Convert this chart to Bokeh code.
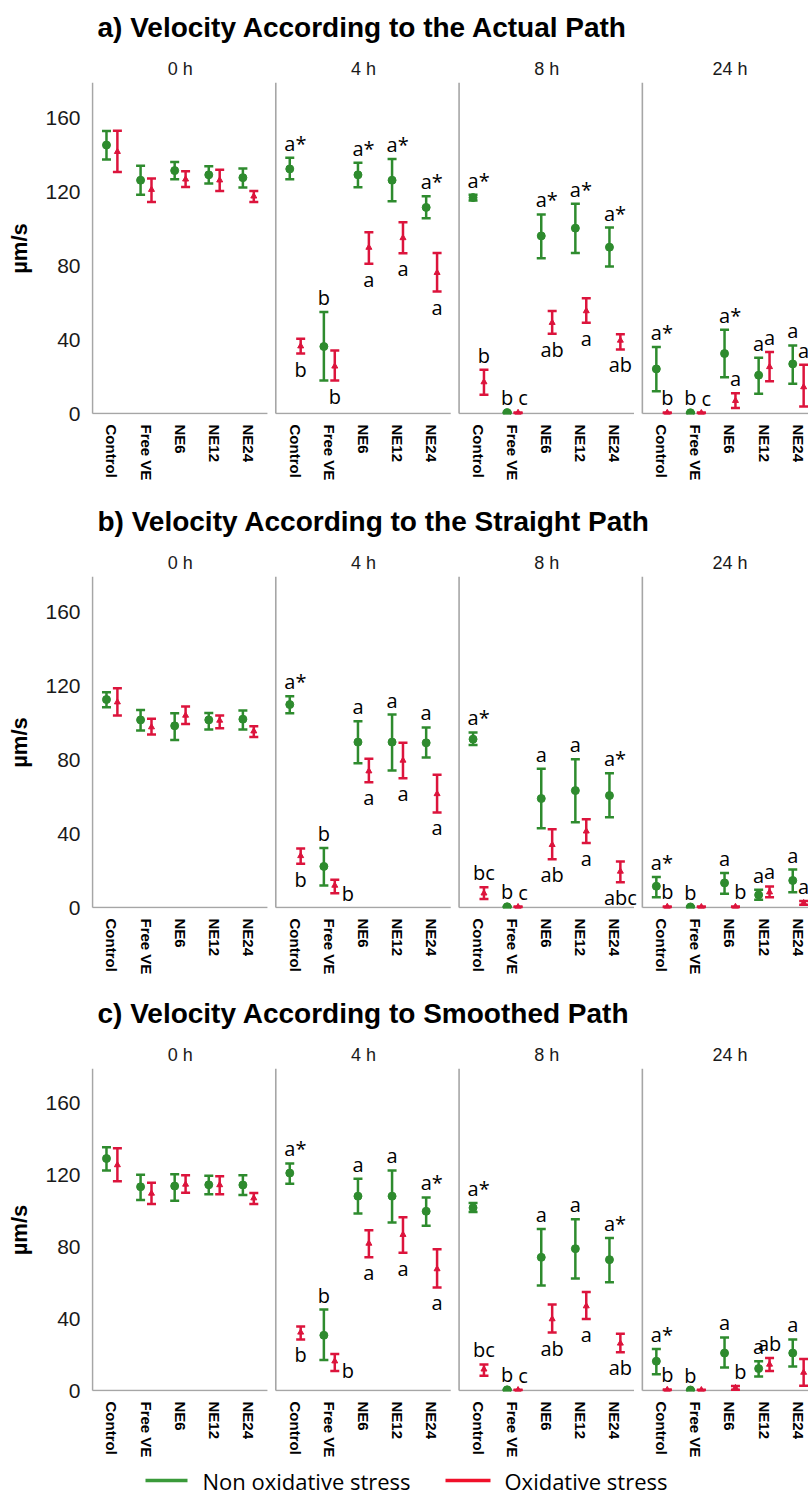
from bokeh.plotting import figure
from bokeh.layouts import column
from bokeh.models import FixedTicker, Range1d, ColumnDataSource
from bokeh.core.properties import value
from bokeh.embed import file_html
from bokeh.resources import INLINE

# ---------------- data ----------------
categories = ["Control", "Free VE", "NE6", "NE12", "NE24"]
times = ["0 h", "4 h", "8 h", "24 h"]
series_names = ["Non oxidative stress", "Oxidative stress"]
panel_titles = ["a) Velocity According to the Actual Path",
                "b) Velocity According to the Straight Path",
                "c) Velocity According to Smoothed Path"]
y_ticks = [0, 40, 80, 120, 160]
y_label = "µm/s"

# a) actual path  (rows = times, cols = categories)
a_non_mean = [[145.1, 126.1, 131.3, 129.0, 127.5], [132.2, 36.2, 129.0, 126.1, 111.4],
              [116.7, 0.5, 96.0, 100.2, 89.9], [24.1, 0.4, 32.4, 20.7, 26.8]]
a_non_low = [[137.3, 118.3, 126.6, 124.3, 122.1], [126.6, 17.8, 122.3, 114.7, 105.6],
             [115.2, 0.2, 83.9, 86.8, 79.5], [12.0, 0.2, 19.6, 10.7, 16.1]]
a_non_high = [[152.7, 133.9, 135.9, 133.7, 132.4], [138.2, 54.9, 135.5, 137.6, 117.4],
              [118.2, 0.8, 107.6, 113.4, 100.5], [36.0, 0.6, 45.3, 30.1, 36.8]]
a_ox_mean = [[141.5, 121.0, 126.6, 126.1, 117.4], [36.4, 25.5, 89.7, 94.9, 76.1],
             [17.0, 0.4, 49.1, 55.4, 39.5], [0.4, 0.3, 6.9, 25.2, 14.3]]
a_ox_low = [[130.6, 114.3, 122.5, 120.3, 114.3], [32.4, 17.8, 81.0, 86.6, 65.9],
            [10.1, 0.2, 43.1, 49.1, 34.6], [0.2, 0.1, 3.0, 17.4, 3.8]]
a_ox_high = [[152.9, 127.0, 131.0, 131.7, 120.3], [40.4, 34.1, 98.0, 103.4, 86.8],
             [23.7, 0.6, 55.4, 62.3, 42.8], [0.6, 0.5, 10.9, 33.2, 26.4]]
a_non_letters = [["", "", "", "", ""], ["a*", "b", "a*", "a*", "a*"],
                 ["a*", "b", "a*", "a*", "a*"], ["a*", "b", "a*", "a", "a"]]
a_ox_letters = [["", "", "", "", ""], ["b", "b", "a", "a", "a"],
                ["b", "c", "ab", "a", "ab"], ["b", "c", "a", "a", "a"]]
a_ox_sides = [["above"] * 5, ["below"] * 5,
              ["above", "above_r", "below", "below", "below"],
              ["above", "above_r", "above", "above", "above"]]

# b) straight path
b_non_mean = [[112.4, 101.4, 98.2, 101.4, 101.8], [109.7, 22.2, 89.4, 89.4, 89.0],
              [91.0, 0.4, 58.9, 63.2, 60.5], [11.5, 0.3, 13.3, 6.8, 14.6]]
b_non_low = [[108.3, 95.7, 90.6, 96.2, 96.2], [105.0, 11.9, 78.0, 74.1, 81.1],
             [87.9, 0.2, 42.9, 46.1, 48.8], [5.6, 0.1, 7.4, 4.2, 8.3]]
b_non_high = [[116.4, 106.7, 105.0, 105.2, 106.5], [114.2, 32.1, 100.7, 104.3, 97.3],
              [94.6, 0.6, 75.0, 80.2, 72.6], [16.5, 0.5, 18.7, 9.6, 20.5]]
b_ox_mean = [[111.0, 97.5, 103.8, 101.1, 95.3], [27.9, 11.9, 73.7, 79.5, 61.4],
             [7.7, 0.3, 33.9, 41.2, 19.5], [0.4, 0.3, 0.4, 8.3, 2.5]]
b_ox_low = [[103.8, 93.5, 99.2, 96.9, 92.1], [23.6, 7.7, 67.7, 69.9, 51.4],
            [4.6, 0.1, 26.1, 34.8, 13.7], [0.2, 0.1, 0.2, 5.6, 1.5]]
b_ox_high = [[118.5, 102.0, 108.6, 103.8, 98.0], [31.9, 15.0, 80.4, 89.0, 71.7],
             [10.9, 0.5, 42.3, 47.7, 24.9], [0.6, 0.5, 0.6, 11.4, 3.5]]
b_non_letters = [["", "", "", "", ""], ["a*", "b", "a", "a", "a"],
                 ["a*", "b", "a", "a", "a*"], ["a*", "b", "a", "a", "a"]]
b_ox_letters = [["", "", "", "", ""], ["b", "b", "a", "a", "a"],
                ["bc", "c", "ab", "a", "abc"], ["b", "", "b", "a", "a"]]
b_ox_sides = [["above"] * 5, ["below", "right", "below", "below", "below"],
              ["above", "above_r", "below", "below", "below"],
              ["above", "above", "above_r", "above", "above"]]

# c) smoothed path
c_non_mean = [[128.9, 113.2, 113.6, 114.3, 114.2], [120.8, 30.7, 108.0, 108.0, 99.6],
              [101.5, 0.4, 74.0, 78.8, 72.7], [16.3, 0.3, 20.8, 12.2, 20.8]]
c_non_low = [[122.3, 105.8, 105.5, 109.1, 108.7], [114.9, 16.9, 98.3, 93.4, 91.6],
             [99.2, 0.2, 58.3, 62.2, 60.1], [9.1, 0.1, 12.8, 7.8, 13.3]]
c_non_high = [[135.2, 119.9, 120.2, 119.4, 119.6], [126.2, 45.0, 117.6, 122.3, 107.3],
              [104.2, 0.6, 89.8, 95.2, 84.8], [23.1, 0.5, 29.5, 16.3, 28.4]]
c_ox_mean = [[125.3, 109.5, 114.5, 114.2, 106.9], [32.3, 16.3, 81.7, 86.6, 67.5],
             [11.8, 0.3, 39.7, 46.9, 26.2], [0.4, 0.3, 1.5, 14.5, 10.0]]
c_ox_low = [[116.3, 103.6, 109.9, 109.1, 103.6], [28.4, 10.9, 74.0, 76.6, 57.3],
            [8.2, 0.1, 32.2, 39.7, 21.2], [0.2, 0.1, 0.5, 10.9, 2.6]]
c_ox_high = [[134.6, 115.5, 119.6, 119.0, 109.7], [35.6, 20.3, 89.1, 96.3, 78.5],
             [14.5, 0.5, 47.8, 54.7, 31.6], [0.6, 0.5, 2.5, 18.1, 17.5]]
c_non_letters = [["", "", "", "", ""], ["a*", "b", "a", "a", "a*"],
                 ["a*", "b", "a", "a", "a*"], ["a*", "b", "a", "a", "a"]]
c_ox_letters = [["", "", "", "", ""], ["b", "b", "a", "a", "a"],
                ["bc", "c", "ab", "a", "ab"], ["b", "", "b", "ab", "a"]]
c_ox_sides = [["above"] * 5, ["below", "right", "below", "below", "below"],
              ["above", "above_r", "below", "below", "below"],
              ["above", "above", "above_r", "above", "right"]]

# ---------------- style / layout ----------------
GREEN = "#2e8b2e"
RED = "#dc143c"
LEG_GREEN = "#3a9a3a"
LEG_RED = "#f0102a"
AXIS_GRAY = "#a6a6a6"
FONT = "Liberation Sans"
LETTER_FONT = "Open Sans"

PX_X = 34.1          # px per category unit
PX_Y = 1.85          # px per µm/s
FACET_STEP = 5.375   # facet spacing in category units
FACET_LINE = 5.13    # length of each facet's bottom line
DODGE = 0.16
FIG_W = 808
LEFT = 91
FRAME_W = FIG_W - LEFT
X0 = -0.57 - 1.0 / PX_X
X1 = X0 + FRAME_W / PX_X
HEADER_H = 82
FRAME_H = 332
Y0 = -1.0 / PX_Y
Y1 = Y0 + FRAME_H / PX_Y

x_range = Range1d(X0, X1)


def px_to_x(px):
    return X0 + (px - LEFT) / PX_X


def flat(m):
    return [v for row in m for v in row]


def positions(offset):
    return [k * FACET_STEP + i + offset for k in range(len(times)) for i in range(len(categories))]


def make_header(title):
    h = figure(width=FIG_W, height=HEADER_H, x_range=x_range, y_range=Range1d(0, HEADER_H),
               min_border_left=LEFT, min_border_right=0, min_border_top=0, min_border_bottom=0,
               x_axis_type=None, y_axis_type=None, output_backend="svg", toolbar_location=None)
    h.outline_line_color = None
    h.text(x=[px_to_x(97)], y=[HEADER_H - 27], text=[title], text_font=value(FONT),
           text_font_size="28px", text_font_style="bold", text_align="left",
           text_baseline="middle", text_color="#000000")
    h.text(x=[k * FACET_STEP + 2 for k in range(len(times))], y=[HEADER_H - 68] * len(times),
           text=times, text_font=value(FONT), text_font_size="18px", text_align="center",
           text_baseline="middle", text_color="#1a1a1a")
    return h


def draw_series(p, xs, mean, low, high, color, marker, msize):
    src = ColumnDataSource(dict(x=xs, m=flat(mean), lo=flat(low), hi=flat(high)))
    p.segment(x0="x", y0="lo", x1="x", y1="hi", source=src, line_color=color, line_width=2.5)
    p.scatter(x="x", y="hi", source=src, marker="dash", size=9, line_color=color, line_width=2.5)
    p.scatter(x="x", y="lo", source=src, marker="dash", size=9, line_color=color, line_width=2.5)
    p.scatter(x="x", y="m", source=src, marker=marker, size=msize, fill_color=color,
              line_color=color)


def draw_letters(p, xs, low, high, letters, sides):
    groups = {}
    for x, lo, hi, t, s in zip(xs, flat(low), flat(high), flat(letters), flat(sides)):
        if not t:
            continue
        align = "center"
        if s in ("above", "above_r"):
            y, base = hi + 1.0 / PX_Y, "bottom"
            if s == "above_r":
                x = x + 5.0 / PX_X
        elif s == "below":
            y, base = lo - 2.0 / PX_Y, "top"
        else:
            y, base = lo, "middle"
            align = "left"
            x = x + 7.0 / PX_X
        if t.endswith("*") and align == "center":
            align = "left"
            x = x - 5.5 / PX_X
        g = groups.setdefault((align, base), ([], [], []))
        g[0].append(x)
        g[1].append(y)
        g[2].append(t)
    for (align, base), (gx, gy, gt) in groups.items():
        p.text(x=gx, y=gy, text=gt, text_font=value(LETTER_FONT), text_font_size="20px",
               text_align=align, text_baseline=base, text_color="#000000")


def make_plot(non, ox, bottom):
    p = figure(width=FIG_W, height=FRAME_H + bottom, x_range=x_range, y_range=Range1d(Y0, Y1),
               min_border_left=LEFT, min_border_right=0, min_border_top=0,
               min_border_bottom=bottom, output_backend="svg", toolbar_location=None)
    p.outline_line_color = None
    p.xgrid.visible = False
    p.ygrid.visible = False

    # facet frames
    lefts = [X0 + 1.0 / PX_X + k * FACET_STEP for k in range(len(times))]
    p.segment(x0=lefts, y0=[0] * 4, x1=lefts, y1=[Y1] * 4, line_color=AXIS_GRAY, line_width=1.6)
    p.segment(x0=lefts, y0=[0] * 4, x1=[l + FACET_LINE for l in lefts], y1=[0] * 4,
              line_color=AXIS_GRAY, line_width=1.6)

    xs_non = positions(-DODGE)
    xs_ox = positions(DODGE)
    draw_series(p, xs_non, non[0], non[1], non[2], GREEN, "circle", 8)
    draw_series(p, xs_ox, ox[0], ox[1], ox[2], RED, "triangle", 6)
    draw_letters(p, xs_non, non[1], non[2], non[3], [["above"] * 5] * 4)
    draw_letters(p, xs_ox, ox[1], ox[2], ox[3], ox[4])

    ticks = positions(0)
    p.xaxis.ticker = FixedTicker(ticks=ticks)
    p.xaxis.major_label_overrides = {t: categories[i % len(categories)] for i, t in enumerate(ticks)}
    p.xaxis.major_label_orientation = "vertical"
    p.xaxis.axis_line_color = None
    p.xaxis.major_tick_line_color = None
    p.xaxis.minor_tick_line_color = None
    p.xaxis.major_label_text_font = FONT
    p.xaxis.major_label_text_font_size = "15px"
    p.xaxis.major_label_text_font_style = "bold"
    p.xaxis.major_label_text_color = "#000000"
    p.xaxis.major_label_standoff = 4

    p.yaxis.ticker = FixedTicker(ticks=y_ticks)
    p.yaxis.axis_line_color = None
    p.yaxis.major_tick_line_color = None
    p.yaxis.minor_tick_line_color = None
    p.yaxis.major_label_text_font = FONT
    p.yaxis.major_label_text_font_size = "21px"
    p.yaxis.major_label_text_color = "#1a1a1a"
    p.yaxis.major_label_standoff = 5
    p.yaxis.axis_label = y_label
    p.yaxis.axis_label_text_font = FONT
    p.yaxis.axis_label_text_font_size = "22px"
    p.yaxis.axis_label_text_font_style = "bold"
    p.yaxis.axis_label_text_color = "#000000"
    p.yaxis.axis_label_standoff = 10
    return p


panels = [
    ((a_non_mean, a_non_low, a_non_high, a_non_letters),
     (a_ox_mean, a_ox_low, a_ox_high, a_ox_letters, a_ox_sides)),
    ((b_non_mean, b_non_low, b_non_high, b_non_letters),
     (b_ox_mean, b_ox_low, b_ox_high, b_ox_letters, b_ox_sides)),
    ((c_non_mean, c_non_low, c_non_high, c_non_letters),
     (c_ox_mean, c_ox_low, c_ox_high, c_ox_letters, c_ox_sides)),
]
bottoms = [80, 78, 60]

children = []
for title, (non, ox), bottom in zip(panel_titles, panels, bottoms):
    children.append(make_header(title))
    children.append(make_plot(non, ox, bottom))

# legend strip
LEG_H = 40
leg = figure(width=FIG_W, height=LEG_H, x_range=x_range, y_range=Range1d(0, LEG_H),
             min_border_left=LEFT, min_border_right=0, min_border_top=0, min_border_bottom=0,
             x_axis_type=None, y_axis_type=None, output_backend="svg", toolbar_location=None)
leg.outline_line_color = None
leg_line_px = [(145, 187), (445, 490)]
leg_text_px = [202, 504]
leg.segment(x0=[px_to_x(a) for a, b in leg_line_px], y0=[LEG_H / 2] * 2,
            x1=[px_to_x(b) for a, b in leg_line_px], y1=[LEG_H / 2] * 2,
            line_color=[LEG_GREEN, LEG_RED], line_width=3.5)
leg.text(x=[px_to_x(t) for t in leg_text_px], y=[LEG_H / 2] * 2, text=series_names,
         text_font=value(LETTER_FONT), text_font_size="22px", text_align="left",
         text_baseline="middle", text_color="#000000")
children.append(leg)

layout = column(*children, spacing=0)
open("out.html", "w").write(file_html(layout, INLINE))
